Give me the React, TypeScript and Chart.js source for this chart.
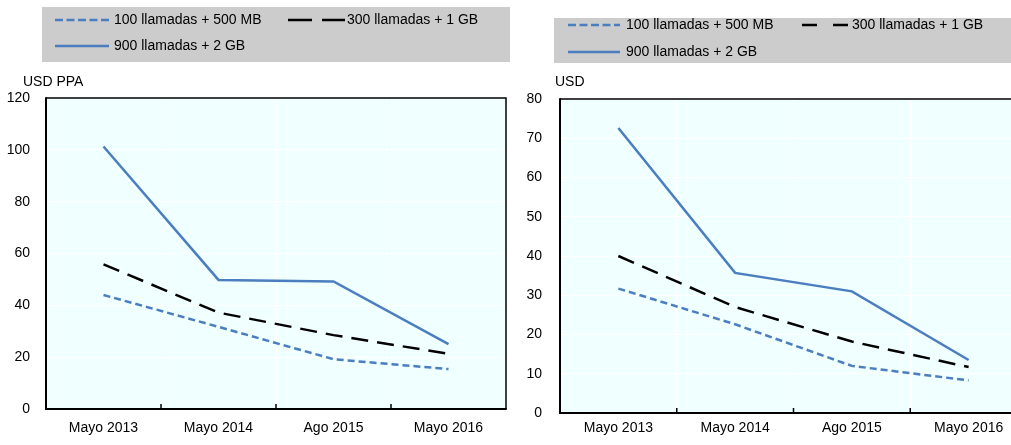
import React, { useEffect, useRef } from "react";
import { Chart, registerables } from "chart.js";
Chart.register(...registerables);

const FONT = "'Liberation Sans', Arial, Helvetica, sans-serif";

const categories = ["Mayo 2013", "Mayo 2014", "Ago 2015", "Mayo 2016"];
const seriesNames = ["100 llamadas + 500 MB", "300 llamadas + 1 GB", "900 llamadas + 2 GB"];

// Left panel (USD PPA)
const pppLow = [44.0, 31.7, 19.2, 15.4];
const pppMid = [55.8, 37.2, 28.5, 21.3];
const pppHigh = [101.3, 49.8, 49.2, 25.0];

// Right panel (USD)
const usdLow = [31.7, 22.6, 12.0, 8.3];
const usdMid = [40.0, 27.0, 18.2, 11.7];
const usdHigh = [72.6, 35.7, 31.0, 13.5];

const BLUE = "#4a7ebf";
const styles = [
  { color: BLUE, dash: [7, 4] },
  { color: "#000000", dash: [17, 9] },
  { color: BLUE, dash: [] as number[] },
];

type PanelProps = {
  left: number;
  width: number;
  height: number;
  low: number[];
  mid: number[];
  high: number[];
  yMax: number;
  yStep: number;
  yTitle: string;
  titleX: number;
  padLeft: number;
  padRight: number;
  padTop: number;
  xAxisH: number;
  yAxisW: number;
  yPad: number;
  xPad: number;
  legend: {
    box: [number, number, number, number];
    rows: [number, number];
    s1: [number, number];
    t1: number;
    s2: [number, number];
    t2: number;
    blackDash: number[];
  };
};

function Panel(p: PanelProps) {
  const ref = useRef<HTMLCanvasElement | null>(null);
  useEffect(() => {
    if (!ref.current) return;
    const data = [p.low, p.mid, p.high];
    const deco = {
      id: "deco",
      beforeDraw(chart: any) {
        const ctx = chart.ctx;
        const a = chart.chartArea;
        ctx.save();
        ctx.fillStyle = "#f0ffff";
        ctx.fillRect(a.left, a.top, a.right - a.left, a.bottom - a.top);
        // legend box
        const L = p.legend;
        ctx.fillStyle = "#cccccc";
        ctx.fillRect(L.box[0], L.box[1], L.box[2], L.box[3]);
        ctx.font = "14px " + FONT;
        ctx.textBaseline = "middle";
        ctx.textAlign = "left";
        const legendDash = [[8, 3.5], L.blackDash, []];
        const items = [
          { s: L.s1, t: L.t1, y: L.rows[0], i: 0 },
          { s: L.s2, t: L.t2, y: L.rows[0], i: 1 },
          { s: L.s1, t: L.t1, y: L.rows[1], i: 2 },
        ];
        items.forEach((it) => {
          ctx.strokeStyle = styles[it.i].color;
          ctx.lineWidth = 2.5;
          ctx.setLineDash(legendDash[it.i]);
          ctx.beginPath();
          ctx.moveTo(it.s[0], it.y);
          ctx.lineTo(it.s[1], it.y);
          ctx.stroke();
          ctx.setLineDash([]);
          ctx.fillStyle = "#000";
          ctx.fillText(seriesNames[it.i], it.t, it.y);
        });
        // y title
        ctx.fillText(p.yTitle, p.titleX, 82);
        ctx.restore();
      },
      afterDraw(chart: any) {
        const ctx = chart.ctx;
        const a = chart.chartArea;
        const xs = chart.scales.x;
        ctx.save();
        ctx.strokeStyle = "#000";
        ctx.lineWidth = 1.5;
        ctx.beginPath();
        ctx.moveTo(a.left, a.top);
        ctx.lineTo(a.right, a.top);
        ctx.lineTo(a.right, a.bottom);
        ctx.stroke();
        ctx.lineWidth = 2;
        ctx.beginPath();
        ctx.moveTo(a.left, a.top - 0.75);
        ctx.lineTo(a.left, a.bottom);
        ctx.lineTo(a.right + 0.75, a.bottom);
        ctx.stroke();
        ctx.lineWidth = 1.5;
        for (let i = 1; i < categories.length; i++) {
          const x = xs.getPixelForValue(i - 0.5);
          ctx.beginPath();
          ctx.moveTo(x, a.bottom);
          ctx.lineTo(x, a.bottom - 5);
          ctx.stroke();
        }
        ctx.restore();
      },
    };
    const chart = new Chart(ref.current, {
      type: "line",
      data: {
        labels: categories,
        datasets: data.map((d, i) => ({
          label: seriesNames[i],
          data: d,
          borderColor: styles[i].color,
          borderDash: styles[i].dash,
          borderWidth: 2.5,
          pointRadius: 0,
          fill: false,
          tension: 0,
        })),
      },
      options: {
        responsive: false,
        animation: false,
        devicePixelRatio: 1,
        layout: { padding: { left: p.padLeft, right: p.padRight, top: p.padTop, bottom: 0 } },
        plugins: { legend: { display: false }, tooltip: { enabled: false }, title: { display: false } },
        scales: {
          x: {
            type: "category",
            offset: true,
            grid: { offset: true, color: "#ffffff", lineWidth: 1, drawTicks: false },
            border: { display: false },
            ticks: { color: "#000", font: { size: 14, family: FONT }, padding: p.xPad, maxRotation: 0 },
            afterFit: (s: any) => {
              s.height = p.xAxisH;
            },
          },
          y: {
            min: 0,
            max: p.yMax,
            grid: { color: "#ffffff", lineWidth: 1, drawTicks: false },
            border: { display: false },
            ticks: { stepSize: p.yStep, color: "#000", font: { size: 14, family: FONT }, padding: p.yPad },
            afterFit: (s: any) => {
              s.width = p.yAxisW;
            },
          },
        },
      },
      plugins: [deco],
    } as any);
    return () => chart.destroy();
  }, []);
  return (
    <canvas
      ref={ref}
      width={p.width}
      height={p.height}
      style={{ position: "absolute", left: p.left, top: 0, width: p.width, height: p.height }}
    />
  );
}

export default function App() {
  return (
    <div style={{ position: "absolute", left: 0, top: 0, width: 1011, height: 445, overflow: "hidden", background: "#fff" }}>
      <Panel
        left={0}
        width={515}
        height={445}
        low={pppLow}
        mid={pppMid}
        high={pppHigh}
        yMax={120}
        yStep={20}
        yTitle="USD PPA"
        titleX={23}
        padLeft={0}
        padRight={9}
        padTop={98}
        xAxisH={36}
        yAxisW={46}
        yPad={16}
        xPad={11}
        legend={{ box: [42, 7, 468, 55], rows: [20, 46], s1: [55, 109], t1: 114, s2: [288, 345], t2: 347, blackDash: [24, 10] }}
      />
      <Panel
        left={515}
        width={530}
        height={445}
        low={usdLow}
        mid={usdMid}
        high={usdHigh}
        yMax={80}
        yStep={10}
        yTitle="USD"
        titleX={40}
        padLeft={0}
        padRight={18}
        padTop={99}
        xAxisH={32}
        yAxisW={45}
        yPad={18}
        xPad={7}
        legend={{ box: [39, 18, 491, 45], rows: [25, 52], s1: [53, 105], t1: 111, s2: [287, 335], t2: 337, blackDash: [15, 16] }}
      />
    </div>
  );
}
